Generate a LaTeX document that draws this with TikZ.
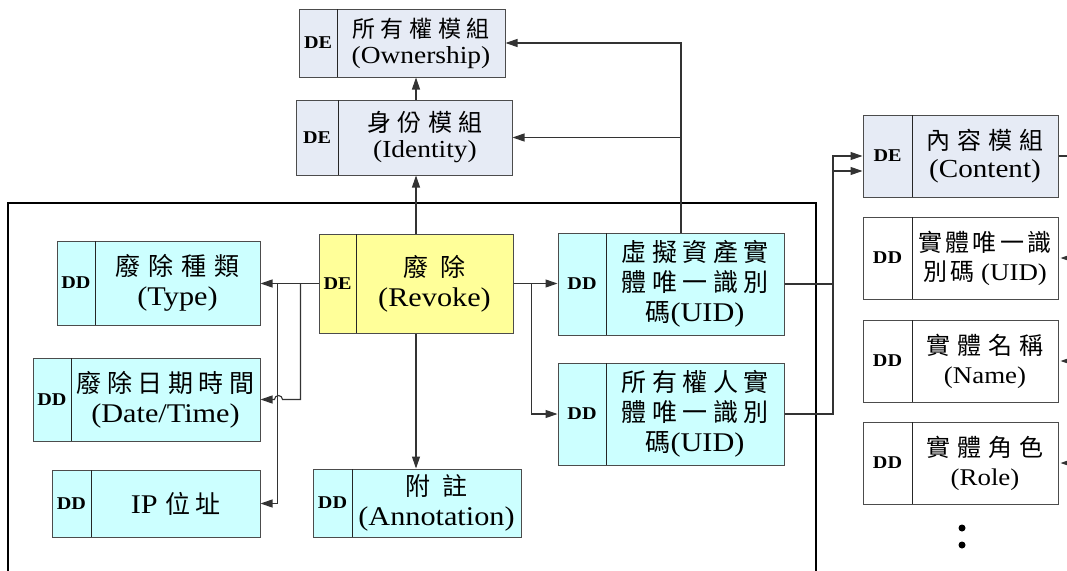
\documentclass[tikz,border=0pt]{standalone}
\usepackage{fontspec}
\setmainfont{Liberation Serif}
\newfontfamily\lat[FakeStretch=1.12]{Liberation Serif}
\newfontfamily\cjfam{Noto Sans CJK TC}
\usetikzlibrary{arrows.meta,fit,calc}
\definecolor{defill}{RGB}{230,235,245}
\definecolor{ddfill}{RGB}{204,255,255}
\definecolor{revfill}{RGB}{255,255,153}
\newcommand\cj[3]{{\cjfam\fontsize{#1}{30}\selectfont\addfontfeature{LetterSpace=#2}#3}}
\newcommand\mkbox[9]{%
  \node[box,#7,fit={(#2,#3)(#4,#5)}] (#1) {};
  \draw[boxline] (#6,#3) -- (#6,#5);
  \node[tagtext] (#1-tag) at ({(#2+#6)/2},{(#3+#5)/2}) {#8};
  \node[txt] (#1-txt) at ({(#6+#4)/2},{(#3+#5)/2}) {#9};
}
\tikzset{
  box/.style={draw=black!70, line width=1pt, inner sep=0pt},
  boxline/.style={draw=black!85, line width=1pt},
  defc/.style={fill=defill},
  ddc/.style={fill=ddfill},
  revc/.style={fill=revfill},
  whc/.style={fill=white},
  tagtext/.style={inner sep=0pt, font=\lat\bfseries\fontsize{18}{20}\selectfont},
  txt/.style={inner sep=0pt, align=center, font=\lat\fontsize{24.5}{26}\selectfont},
  conn/.style={draw=black!80, line width=1.1pt},
  arr/.style={conn, -{Triangle[length=12pt,width=8pt]}},
  frameline/.style={draw=black, line width=1.8pt},
  dot/.style={circle, fill=black, inner sep=0pt, minimum size=7pt}
}
\begin{document}
\begin{tikzpicture}[x=1pt,y=-1pt]
\useasboundingbox (0,0) rectangle (1067,570);
\clip (0,0) rectangle (1067,570);
% top modules
\mkbox{own}{299}{9}{505}{77}{337}{defc}{DE}{\cj{23}{24}{所有權模組}\\(Ownership)}
\mkbox{ident}{296}{100}{512}{175}{338}{defc}{DE}{\cj{24}{27}{身份模組}\\(Identity)}
% revoke group
\tikzset{txt/.style={inner sep=0pt, align=center, font=\lat\fontsize{27}{30}\selectfont}}
\mkbox{rev}{319}{234}{513}{333}{356}{revc}{DE}{\cj{25}{47}{廢除}\\(Revoke)}
\mkbox{type}{57}{241}{260}{325}{95}{ddc}{DD}{\cj{25}{31}{廢除種類}\\(Type)}
\mkbox{date}{33}{358}{260}{441}{71}{ddc}{DD}{\cj{25}{22}{廢除日期時間}\\(Date/Time)}
\mkbox{ip}{52}{470}{260}{537}{91}{ddc}{DD}{IP \cj{25}{20}{位址}}
\mkbox{ann}{313}{469}{521}{537}{352}{ddc}{DD}{\cj{25}{47}{附註}\\(Annotation)}
\mkbox{uid1}{558}{233}{784}{335}{606}{ddc}{DD}{\cj{25}{22}{虛擬資產實}\\\cj{25}{22}{體唯一識別}\\\cj{25}{0}{碼}(UID)}
\mkbox{uid2}{558}{363}{784}{465}{606}{ddc}{DD}{\cj{25}{22}{所有權人實}\\\cj{25}{22}{體唯一識別}\\\cj{25}{0}{碼}(UID)}
% content module
\tikzset{txt/.style={inner sep=0pt, align=center, font=\lat\fontsize{26}{28}\selectfont}}
\mkbox{content}{863}{115}{1058}{197}{912}{defc}{DE}{\cj{24}{28}{內容模組}\\(Content)}
\tikzset{txt/.style={inner sep=0pt, align=center, font=\lat\fontsize{24}{29}\selectfont}}
\mkbox{uidr}{863}{217}{1058}{299}{912}{whc}{DD}{\cj{24}{14}{實體唯一識}\\\cj{24}{14}{別碼} (UID)}
\mkbox{name}{863}{320}{1058}{402}{912}{whc}{DD}{\cj{24}{28}{實體名稱}\\(Name)}
\mkbox{role}{863}{422}{1058}{504}{912}{whc}{DD}{\cj{24}{28}{實體角色}\\(Role)}
\node[dot] (dot1) at (962,528) {};
\node[dot] (dot2) at (962,545) {};
% frame
\draw[frameline] (8,600) -- (8,203) -- (816,203) -- (816,600);
% connectors
\draw[arr] (rev.north) -- (rev.north |- ident.south);
\draw[arr] (rev.north |- ident.north) -- (rev.north |- own.south);
\coordinate (up) at ([xshift=10pt]uid1.north);
\draw[arr] (up) |- (own.east);
\draw[arr] (up) |- (ident.east);
\draw[arr] (rev.west) -- (rev.west -| type.east);
\draw[arr] ([xshift=-18pt]rev.west) |- ([xshift=22pt]date.east)
   arc[start angle=0,end angle=180,radius=4pt] -- (date.east);
\draw[arr] ([xshift=-41pt]rev.west) |- (ip.east);
\draw[arr] (rev.south) -- (rev.south |- ann.north);
\draw[arr] (rev.east) -- (rev.east -| uid1.west);
\draw[arr] ([xshift=18pt]rev.east) |- (uid2.west);
\coordinate (bx) at (833,0);
\draw[arr] (uid1.east) -- (uid1.east -| bx) |- (content.west);
\draw[arr] (uid2.east) -- (uid2.east -| bx) |- ([yshift=-15pt]content.west);
\draw[conn] (content.east) -- ++(20pt,0);
\draw[arr] ([xshift=16pt]uidr.east) -- ([xshift=2pt]uidr.east);
\draw[arr] ([xshift=16pt]name.east) -- ([xshift=2pt]name.east);
\draw[arr] ([xshift=16pt]role.east) -- ([xshift=2pt]role.east);
\end{tikzpicture}
\end{document}
